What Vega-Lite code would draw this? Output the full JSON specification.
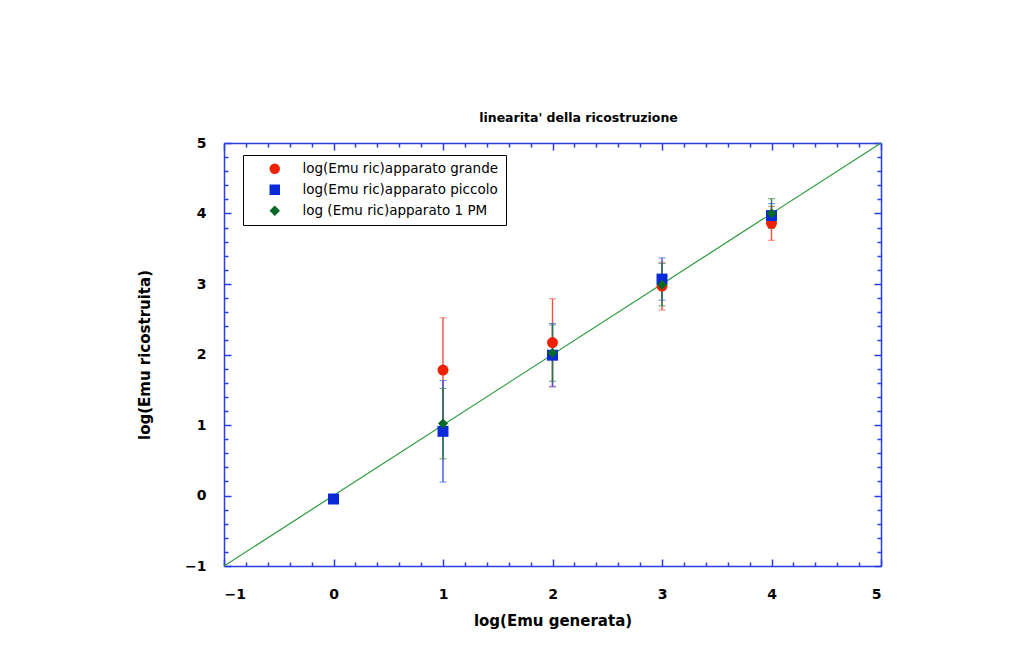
{
  "$schema": "https://vega.github.io/schema/vega-lite/v6.json",
  "width": 657,
  "height": 423,
  "autosize": {"type": "none"},
  "padding": {"left": 224, "top": 143, "right": 143, "bottom": 94},
  "background": "white",
  "title": {
    "text": "linearita' della ricostruzione",
    "font": "DejaVu Sans",
    "fontSize": 12.5,
    "fontWeight": "bold",
    "color": "black",
    "anchor": "middle",
    "dx": 26,
    "offset": 12
  },
  "config": {
    "view": {"stroke": null},
    "axis": {
      "grid": false,
      "domainColor": "#2a3de0",
      "tickColor": "#2a3de0",
      "domainWidth": 1.5,
      "tickWidth": 1.5,
      "labelFont": "DejaVu Sans",
      "labelFontWeight": "bold",
      "labelFontSize": 14,
      "labelColor": "black",
      "titleFont": "DejaVu Sans",
      "titleFontWeight": "bold",
      "titleFontSize": 15,
      "titleColor": "black"
    }
  },
  "datasets": {
    "misure": [
      {"serie": "log(Emu ric)apparato grande", "x": 1, "y": 1.78, "err": 0.74},
      {"serie": "log(Emu ric)apparato grande", "x": 2, "y": 2.17, "err": 0.62},
      {"serie": "log(Emu ric)apparato grande", "x": 3, "y": 2.97, "err": 0.34},
      {"serie": "log(Emu ric)apparato grande", "x": 4, "y": 3.86, "err": 0.24},
      {"serie": "log(Emu ric)apparato piccolo", "x": 0, "y": -0.05, "err": 0},
      {"serie": "log(Emu ric)apparato piccolo", "x": 1, "y": 0.91, "err": 0.72},
      {"serie": "log(Emu ric)apparato piccolo", "x": 2, "y": 1.99, "err": 0.45},
      {"serie": "log(Emu ric)apparato piccolo", "x": 3, "y": 3.07, "err": 0.3},
      {"serie": "log(Emu ric)apparato piccolo", "x": 4, "y": 3.97, "err": 0.17},
      {"serie": "log (Emu ric)apparato 1 PM", "x": 1, "y": 1.02, "err": 0.5},
      {"serie": "log (Emu ric)apparato 1 PM", "x": 2, "y": 2.02, "err": 0.4},
      {"serie": "log (Emu ric)apparato 1 PM", "x": 3, "y": 2.99, "err": 0.3},
      {"serie": "log (Emu ric)apparato 1 PM", "x": 4, "y": 4.0, "err": 0.21}
    ],
    "bisettrice": [
      {"x": -1, "y": -1},
      {"x": 5, "y": 5}
    ]
  },
  "layer": [
    {
      "data": {"name": "bisettrice"},
      "mark": {"type": "line", "color": "#2a9a3c", "strokeWidth": 1.2},
      "encoding": {
        "x": {
          "field": "x", "type": "quantitative",
          "scale": {"domain": [-1, 5], "nice": false, "zero": false},
          "axis": {
            "orient": "bottom", "values": [-1, 0, 1, 2, 3, 4, 5],
            "tickSize": -7, "labelPadding": 28,
            "title": "log(Emu generata)", "titlePadding": 12
          }
        },
        "y": {
          "field": "y", "type": "quantitative",
          "scale": {"domain": [-1, 5], "nice": false, "zero": false},
          "axis": {
            "orient": "left", "values": [-1, 0, 1, 2, 3, 4, 5],
            "tickSize": -7, "labelPadding": 25,
            "title": "log(Emu ricostruita)", "titlePadding": 32
          }
        }
      }
    },
    {
      "data": {"name": "misure"},
      "transform": [{"filter": "datum.serie == 'log(Emu ric)apparato grande' && datum.err > 0"}],
      "mark": {"type": "errorbar", "color": "#f0503c", "rule": {"strokeWidth": 1.4}, "ticks": {"size": 7, "strokeWidth": 1.4}},
      "encoding": {
        "x": {"field": "x", "type": "quantitative", "scale": {"domain": [-1, 5], "nice": false, "zero": false}, "axis": null},
        "y": {"field": "y", "type": "quantitative", "scale": {"domain": [-1, 5], "nice": false, "zero": false}, "axis": null},
        "yError": {"field": "err"}
      }
    },
    {
      "data": {"name": "misure"},
      "transform": [{"filter": "datum.serie == 'log(Emu ric)apparato piccolo' && datum.err > 0"}],
      "mark": {"type": "errorbar", "color": "#3a55e8", "rule": {"strokeWidth": 1.4}, "ticks": {"size": 7, "strokeWidth": 1.4}},
      "encoding": {
        "x": {"field": "x", "type": "quantitative", "scale": {"domain": [-1, 5], "nice": false, "zero": false}, "axis": null},
        "y": {"field": "y", "type": "quantitative", "scale": {"domain": [-1, 5], "nice": false, "zero": false}, "axis": null},
        "yError": {"field": "err"}
      }
    },
    {
      "data": {"name": "misure"},
      "transform": [{"filter": "datum.serie == 'log (Emu ric)apparato 1 PM' && datum.err > 0"}],
      "mark": {"type": "errorbar", "color": "#2a7a40", "rule": {"strokeWidth": 1.4}, "ticks": {"size": 7, "strokeWidth": 1.4}},
      "encoding": {
        "x": {"field": "x", "type": "quantitative", "scale": {"domain": [-1, 5], "nice": false, "zero": false}, "axis": null},
        "y": {"field": "y", "type": "quantitative", "scale": {"domain": [-1, 5], "nice": false, "zero": false}, "axis": null},
        "yError": {"field": "err"}
      }
    },
    {
      "data": {"name": "misure"},
      "transform": [{"filter": "datum.serie == 'log(Emu ric)apparato grande'"}],
      "mark": {"type": "point", "filled": true, "opacity": 1, "size": 120},
      "encoding": {
        "x": {
          "field": "x", "type": "quantitative",
          "scale": {"domain": [-1, 5], "nice": false, "zero": false},
          "axis": {"orient": "bottom", "values": [-0.8, -0.6, -0.4, -0.2, 0.2, 0.4, 0.6, 0.8, 1.2, 1.4, 1.6, 1.8, 2.2, 2.4, 2.6, 2.8, 3.2, 3.4, 3.6, 3.8, 4.2, 4.4, 4.6, 4.8], "tickSize": -4, "labels": false, "domain": false, "title": null}
        },
        "y": {
          "field": "y", "type": "quantitative",
          "scale": {"domain": [-1, 5], "nice": false, "zero": false},
          "axis": {"orient": "left", "values": [-0.8, -0.6, -0.4, -0.2, 0.2, 0.4, 0.6, 0.8, 1.2, 1.4, 1.6, 1.8, 2.2, 2.4, 2.6, 2.8, 3.2, 3.4, 3.6, 3.8, 4.2, 4.4, 4.6, 4.8], "tickSize": -4, "labels": false, "domain": false, "title": null}
        },
        "color": {
          "field": "serie", "type": "nominal",
          "scale": {
            "domain": ["log(Emu ric)apparato grande", "log(Emu ric)apparato piccolo", "log (Emu ric)apparato 1 PM"],
            "range": ["#ee2200", "#0a2ad8", "#06692a"]
          },
          "legend": {
            "title": null,
            "orient": "none",
            "legendX": 19,
            "legendY": 12,
            "fillColor": "white",
            "strokeColor": "black",
            "padding": 7,
            "symbolOffset": 18,
            "labelOffset": 21,
            "rowPadding": 6,
            "labelFont": "DejaVu Sans",
            "labelFontSize": 13.5,
            "labelLimit": 400,
            "symbolSize": 110,
            "symbolStrokeWidth": 0,
            "encode": {
              "legend": {"update": {"strokeWidth": {"value": 1.5}}},
              "labels": {"update": {"fill": {"scale": "color", "field": "value"}}}
            }
          }
        },
        "shape": {
          "field": "serie", "type": "nominal",
          "scale": {
            "domain": ["log(Emu ric)apparato grande", "log(Emu ric)apparato piccolo", "log (Emu ric)apparato 1 PM"],
            "range": ["circle", "square", "diamond"]
          },
          "legend": {"title": null}
        }
      }
    },
    {
      "data": {"name": "misure"},
      "transform": [{"filter": "datum.serie == 'log(Emu ric)apparato piccolo'"}],
      "mark": {"type": "point", "filled": true, "opacity": 1, "size": 120},
      "encoding": {
        "x": {
          "field": "x", "type": "quantitative",
          "scale": {"domain": [-1, 5], "nice": false, "zero": false},
          "axis": {"orient": "top", "values": [-1, 0, 1, 2, 3, 4, 5], "tickSize": -7, "labels": false, "title": null}
        },
        "y": {
          "field": "y", "type": "quantitative",
          "scale": {"domain": [-1, 5], "nice": false, "zero": false},
          "axis": {"orient": "right", "values": [-1, 0, 1, 2, 3, 4, 5], "tickSize": -7, "labels": false, "title": null}
        },
        "color": {"field": "serie", "type": "nominal"},
        "shape": {"field": "serie", "type": "nominal"}
      }
    },
    {
      "data": {"name": "misure"},
      "transform": [{"filter": "datum.serie == 'log (Emu ric)apparato 1 PM'"}],
      "mark": {"type": "point", "filled": true, "opacity": 1, "size": 100},
      "encoding": {
        "x": {
          "field": "x", "type": "quantitative",
          "scale": {"domain": [-1, 5], "nice": false, "zero": false},
          "axis": {"orient": "top", "values": [-0.8, -0.6, -0.4, -0.2, 0.2, 0.4, 0.6, 0.8, 1.2, 1.4, 1.6, 1.8, 2.2, 2.4, 2.6, 2.8, 3.2, 3.4, 3.6, 3.8, 4.2, 4.4, 4.6, 4.8], "tickSize": -4, "labels": false, "domain": false, "title": null}
        },
        "y": {
          "field": "y", "type": "quantitative",
          "scale": {"domain": [-1, 5], "nice": false, "zero": false},
          "axis": {"orient": "right", "values": [-0.8, -0.6, -0.4, -0.2, 0.2, 0.4, 0.6, 0.8, 1.2, 1.4, 1.6, 1.8, 2.2, 2.4, 2.6, 2.8, 3.2, 3.4, 3.6, 3.8, 4.2, 4.4, 4.6, 4.8], "tickSize": -4, "labels": false, "domain": false, "title": null}
        },
        "color": {"field": "serie", "type": "nominal"},
        "shape": {"field": "serie", "type": "nominal"}
      }
    }
  ],
  "resolve": {"axis": {"x": "independent", "y": "independent"}}
}
